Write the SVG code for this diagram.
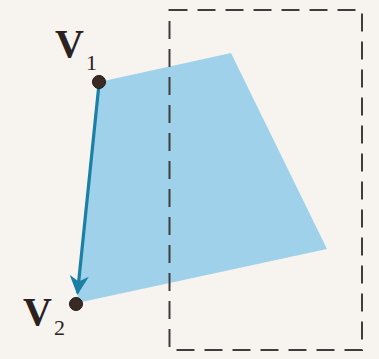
<svg xmlns="http://www.w3.org/2000/svg" width="379" height="359" viewBox="0 0 379 359">
<style>
.lbl{font-family:"Liberation Serif","Times New Roman",serif;fill:#2a2220}
.v{font-size:40px;font-weight:bold}
.sub{font-size:22px}
.dot{fill:#3a2a24;stroke:#1e1614;stroke-width:1}
</style>
<defs>
<marker id="ah" viewBox="0 0 10 10" refX="9" refY="5" markerWidth="6" markerHeight="6" orient="auto" markerUnits="strokeWidth">
<path d="M0,0 L10,5 L0,10 L3,5 Z" fill="#1c7fa6"/>
</marker>
</defs>
<rect width="379" height="359" fill="#f7f4ef"/>
<g id="polygon">
<polygon points="99,82 231,53 327,249 77,303" fill="#9fd2ea"/>
</g>
<g id="window">
<rect x="169.5" y="10" width="192.5" height="340" fill="none" stroke="#3f3c3a" stroke-width="2" stroke-dasharray="18,10"/>
</g>
<g id="connectors">
<line x1="99" y1="84" x2="77.5" y2="293" stroke="#1c7fa6" stroke-width="3.2" marker-end="url(#ah)"/>
</g>
<g id="v1">
<circle class="dot" cx="99" cy="82" r="6.5"/>
<text class="lbl v" x="55" y="57">V</text>
<text class="lbl sub" x="86" y="70">1</text>
</g>
<g id="v2">
<circle class="dot" cx="76" cy="304" r="6.5"/>
<text class="lbl v" x="23" y="325">V</text>
<text class="lbl sub" x="54" y="335">2</text>
</g>
</svg>
